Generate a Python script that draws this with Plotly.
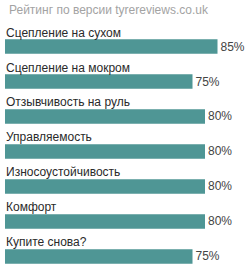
import plotly.graph_objects as go

title = "Рейтинг по версии tyrereviews.co.uk"
categories = ["Сцепление на сухом", "Сцепление на мокром", "Отзывчивость на руль",
              "Управляемость", "Износоустойчивость", "Комфорт", "Купите снова?"]
values = [85, 75, 80, 80, 80, 80, 75]

W, H = 248, 268
FONT = "Liberation Sans, Arial, sans-serif"

y_idx = list(range(len(categories)))

fig = go.Figure(go.Bar(
    x=values, y=y_idx, orientation="h",
    marker=dict(color="#4f9695", line=dict(width=0)),
    width=0.42,
    text=[f"{v}%" for v in values],
    textposition="outside",
    textfont=dict(family=FONT, size=12, color="#444444"),
    cliponaxis=False,
    hoverinfo="skip",
))

for i, c in enumerate(categories):
    fig.add_annotation(x=0, y=i, xref="x", yref="y", text=c, showarrow=False,
                       xanchor="left", yanchor="middle", yshift=14, xshift=-1,
                       font=dict(family=FONT, size=12, color="#2a2a2a"))

fig.update_layout(
    width=W, height=H,
    margin=dict(l=5, r=0, t=29, b=0),
    paper_bgcolor="white", plot_bgcolor="white",
    showlegend=False,
    title=dict(text=title, x=9 / W, xanchor="left", xref="container",
               y=1 - 10 / H, yanchor="middle", yref="container",
               font=dict(family=FONT, size=12, color="#a3a3a3")),
    xaxis=dict(range=[0, 97.2], visible=False, fixedrange=True),
    yaxis=dict(range=[6.329, -0.5], visible=False, fixedrange=True),
    uniformtext=dict(mode=False),
)

fig.write_html("out.html", config={"displayModeBar": False})
